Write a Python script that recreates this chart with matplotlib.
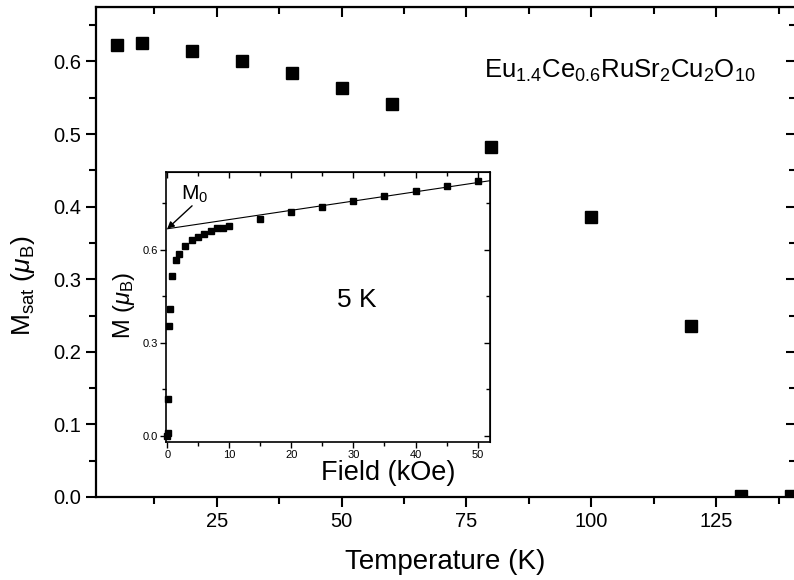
import matplotlib
matplotlib.use("Agg")
import matplotlib.pyplot as plt
from matplotlib.ticker import MultipleLocator

plt.rcParams['font.family'] = ['Liberation Sans', 'DejaVu Sans']
plt.rcParams['mathtext.fontset'] = 'custom'
plt.rcParams['mathtext.rm'] = 'Liberation Sans'
plt.rcParams['mathtext.it'] = 'Liberation Sans:italic'

############### Data ###############
# saturation moment vs temperature
temp_K = [5, 10, 20, 30, 40, 50, 60, 80, 100, 120, 130, 140]
m_sat = [0.622, 0.626, 0.615, 0.601, 0.584, 0.564, 0.542, 0.482, 0.386, 0.236, 0.002, 0.002]

# inset: M vs field at 5 K
field_kOe = [0.0, 0.05, 0.15, 0.25, 0.4, 0.8, 1.45, 1.9, 2.9, 4.0, 5.0, 6.0, 7.0, 8.0, 9.0,
             10.0, 15.0, 20.0, 25.0, 30.0, 35.0, 40.0, 45.0, 50.0]
m_field = [0.0, 0.01, 0.12, 0.355, 0.41, 0.516, 0.565, 0.587, 0.613, 0.632, 0.642, 0.651,
           0.661, 0.668, 0.671, 0.677, 0.700, 0.722, 0.738, 0.758, 0.774, 0.790, 0.806, 0.822]

# linear high-field extrapolation
fit_x = [0.0, 52.0]
m0 = 0.667
slope = 0.00298

############### Figure ###############
fig = plt.figure(figsize=(7.94, 5.8), dpi=100)
ax = fig.add_axes([96/794, 1-497/580, 700/794, 490/580])

ax.plot(temp_K, m_sat, 's', color='black', markersize=8.5)
ax.set_xlim(0.8, 141)
ax.set_ylim(0.0, 0.675)
ax.xaxis.set_major_locator(MultipleLocator(25))
ax.xaxis.set_minor_locator(MultipleLocator(12.5))
ax.yaxis.set_major_locator(MultipleLocator(0.1))
ax.yaxis.set_minor_locator(MultipleLocator(0.05))
ax.set_xticks([25, 50, 75, 100, 125])
ax.yaxis.set_major_formatter(matplotlib.ticker.FormatStrFormatter('%.1f'))
ax.tick_params(which='both', direction='out', width=1.5, labelsize=14.5)
ax.tick_params(which='major', length=7)
ax.tick_params(which='minor', length=5)
for s in ax.spines.values():
    s.set_linewidth(1.6)

# mirrored ticks on top/right, pointing inside
top = ax.secondary_xaxis('top')
top.xaxis.set_major_locator(MultipleLocator(25))
top.xaxis.set_minor_locator(MultipleLocator(12.5))
top.tick_params(which='both', direction='in', width=1.5, labeltop=False)
top.tick_params(which='major', length=7)
top.tick_params(which='minor', length=5)
right = ax.secondary_yaxis('right')
right.yaxis.set_major_locator(MultipleLocator(0.1))
right.yaxis.set_minor_locator(MultipleLocator(0.05))
right.tick_params(which='both', direction='in', width=1.5, labelright=False)
right.tick_params(which='major', length=7)
right.tick_params(which='minor', length=5)

ax.set_xlabel('Temperature (K)', fontsize=20)
ax.xaxis.set_label_coords(0.499, -0.106)
ax.set_ylabel(r'M$_{\rm sat}$ ($\mu_{\rm B}$)', fontsize=19)
ax.yaxis.set_label_coords(-0.084, 0.43)
ax.text(0.555, 0.87, r'Eu$_{1.4}$Ce$_{0.6}$RuSr$_2$Cu$_2$O$_{10}$', transform=ax.transAxes,
        fontsize=18.5, ha='left', va='center')

############### Inset ###############
ins = fig.add_axes([166/794, 1-442/580, 324/794, 270/580])
ins.plot(field_kOe, m_field, 's', color='black', markersize=4.5, clip_on=False)
ins.plot(fit_x, [m0 + slope*x for x in fit_x], '-', color='black', linewidth=0.8)
ins.set_xlim(-0.2, 52)
ins.set_ylim(-0.02, 0.85)
ins.xaxis.set_major_locator(MultipleLocator(10))
ins.xaxis.set_minor_locator(MultipleLocator(5))
ins.yaxis.set_major_locator(MultipleLocator(0.3))
ins.yaxis.set_minor_locator(MultipleLocator(0.15))
ins.set_yticks([0.0, 0.3, 0.6])
ins.yaxis.set_major_formatter(matplotlib.ticker.FormatStrFormatter('%.1f'))
ins.tick_params(which='both', direction='out', width=1.0, labelsize=8, pad=2)
ins.tick_params(which='major', length=4)
ins.tick_params(which='minor', length=3)
for s in ins.spines.values():
    s.set_linewidth(1.2)
itop = ins.secondary_xaxis('top')
itop.xaxis.set_major_locator(MultipleLocator(10))
itop.xaxis.set_minor_locator(MultipleLocator(5))
itop.tick_params(which='both', direction='in', width=1.0, labeltop=False)
itop.tick_params(which='major', length=4)
itop.tick_params(which='minor', length=3)
iright = ins.secondary_yaxis('right')
iright.yaxis.set_major_locator(MultipleLocator(0.3))
iright.yaxis.set_minor_locator(MultipleLocator(0.15))
iright.tick_params(which='both', direction='in', width=1.0, labelright=False)
iright.tick_params(which='major', length=4)
iright.tick_params(which='minor', length=3)

ins.set_xlabel('Field (kOe)', fontsize=19.5)
ins.xaxis.set_label_coords(0.685, -0.067)
ins.set_ylabel(r'M ($\mu_{\rm B}$)', fontsize=17)
ins.yaxis.set_label_coords(-0.09, 0.507)
ins.text(0.59, 0.526, '5 K', transform=ins.transAxes, fontsize=19, ha='center', va='center')
ins.text(2.25, 0.745, 'M$_0$', fontsize=15, ha='left', va='bottom')
ins.annotate('', xy=(0, m0), xytext=(4.0, 0.741),
             arrowprops=dict(arrowstyle='-|>', color='black', lw=1.0, mutation_scale=10,
                             shrinkA=0, shrinkB=0))

fig.savefig('out.png', dpi=100)
